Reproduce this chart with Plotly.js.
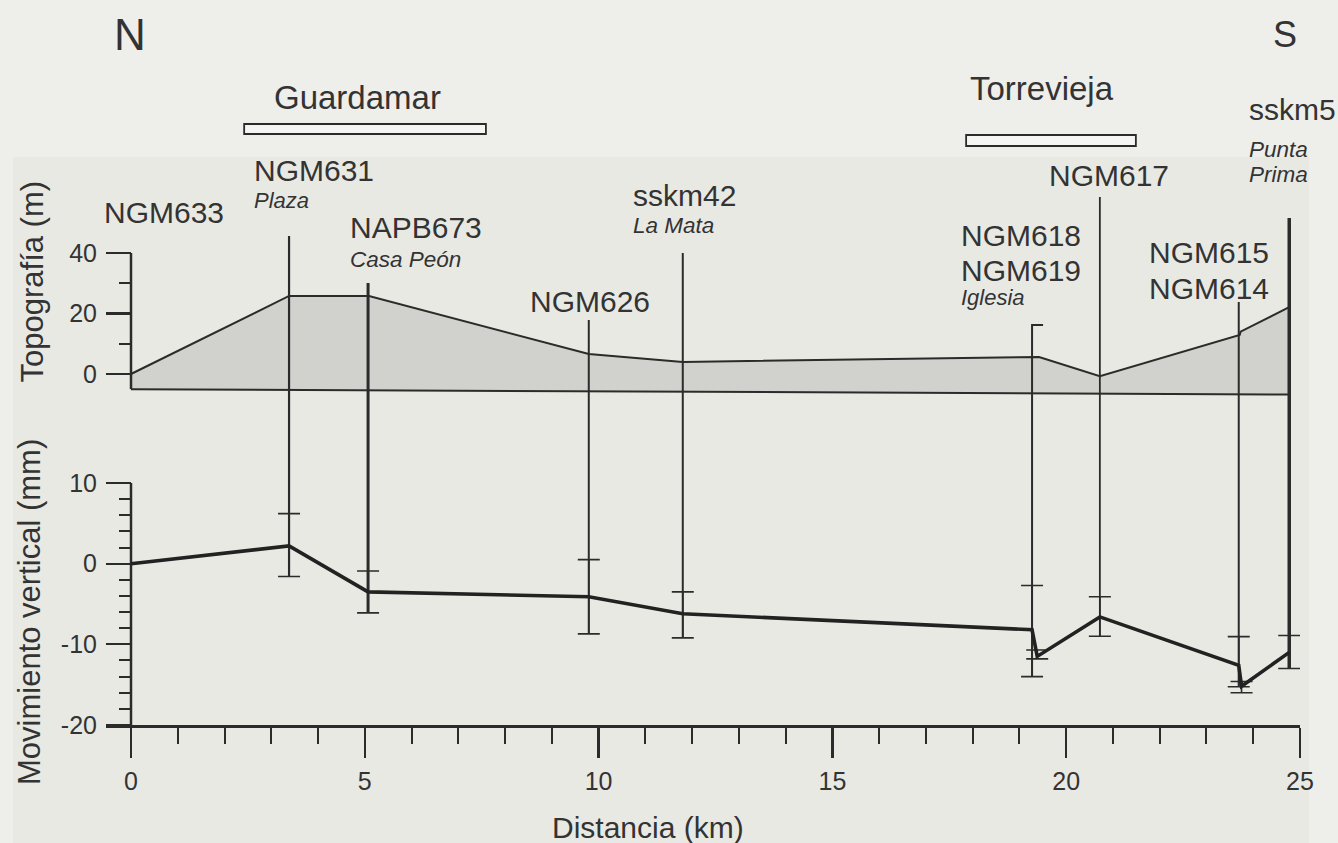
<!DOCTYPE html>
<html>
<head>
<meta charset="utf-8">
<script src="https://cdn.plot.ly/plotly-3.0.1.min.js"></script>
<style>
html,body{margin:0;padding:0;background:#eeeeea;}
#chart{width:1338px;height:843px;}
</style>
</head>
<body>
<div id="chart"></div>
<script>
// ---------------- data ----------------
const stations = ['NGM633','NGM631','NAPB673','NGM626','sskm42','NGM618','NGM619','NGM617','NGM615','NGM614','sskm5'];
const distKm   = [0, 3.38, 5.07, 9.79, 11.8, 19.27, 19.38, 20.72, 23.69, 23.75, 24.77];
const movMm    = [0, 2.2, -3.5, -4.1, -6.2, -8.2, -11.5, -6.6, -12.6, -15.2, -11.0];
const errUpMm  = [null, 6.2, -0.9, 0.5, -3.5, -2.7, -10.7, -4.1, -9.05, -14.6, -8.9];
const errLowMm = [null, -1.6, -6.1, -8.7, -9.2, -14.0, -11.8, -9.0, -15.25, -16.0, -13.0];

const topoKm = [0, 3.38, 5.09, 9.79, 11.8, 19.29, 19.42, 20.72, 23.71, 23.73, 24.77];
const topoM  = [0, 25.8, 25.8, 6.6, 4.0, 5.6, 5.6, -0.7, 12.9, 14.0, 22.1];
const topoBaseKm = [24.77, 0];
const topoBaseM  = [-6.8, -5.0];

const cities = ['Guardamar', 'Torrevieja'];
const cityStartKm = [2.42, 17.86];
const cityEndKm   = [7.59, 21.49];

const xTickVals = [0, 5, 10, 15, 20, 25];
const movTickVals = [-20, -10, 0, 10];
const movTickText = ['-20', '-10', '0', '10'];
const movMinorVals = [-18,-16,-14,-12,-8,-6,-4,-2,2,4,6,8];
const topoTickVals = [0, 20, 40];
const topoMinorVals = [10, 30];

// ---------------- layout geometry (pixels) ----------------
const W = 1338, H = 843, L = 106, R = 38, T = 0, B = 118;
const PW = W - L - R, PH = H - T - B;
const x0px = 131, x25px = 1300;
const pxPerKm = (x25px - x0px) / 25;
const mm10px = 483, mmM20px = 725, pxPerMm = (mmM20px - mm10px) / 30;
const m0px = 374, m40px = 253, pxPerM = (m0px - m40px) / 40;

const xRange = [-(x0px - L) / pxPerKm, 25.0001];
const mmRange = [-20, -20 + PH / pxPerMm];
const mRange = [-(mmM20px - m0px) / pxPerM, m0px / pxPerM];
const yAxisPos = (x0px - L) / PW;

const pyMm = px => -20 + (mmM20px - px) / pxPerMm;
const pyM  = px => (m0px - px) / pxPerM;
const paperX = px => (px - L) / PW;
const paperY = px => (PH - px) / PH;

const ink = '#2b2b2b';
const txt = '#333333';
const FONT = 'Liberation Sans, Arial, Helvetica, sans-serif';

// station leader-line tops (label layout, px) and widths
const lineTopPx = {NGM631:236, NAPB673:283, NGM626:320, sskm42:253, NGM618:325, NGM617:197, NGM615:302, sskm5:218};
const lineW = {NGM631:2.2, NAPB673:3, NGM626:2, sskm42:2, NGM618:2, NGM617:1.8, NGM615:2, sskm5:3.5};

const traces = [];

// topography polygon (base axis 'y' = metres)
traces.push({
  x: topoKm.concat(topoBaseKm), y: topoM.concat(topoBaseM),
  xaxis: 'x', yaxis: 'y', type: 'scatter', mode: 'lines',
  fill: 'toself', fillcolor: '#d1d1cd',
  line: {color: ink, width: 2}, hoverinfo: 'skip'
});

// y-axis lines (only over the labelled extents)
traces.push({x: [0, 0], y: [topoBaseM[1], topoTickVals[topoTickVals.length-1]], xaxis:'x', yaxis:'y',
  mode:'lines', line:{color: ink, width: 2.5}, hoverinfo:'skip'});
traces.push({x: [0, 0], y: [movTickVals[0], movTickVals[movTickVals.length-1]], xaxis:'x', yaxis:'y2',
  mode:'lines', line:{color: ink, width: 2.5}, hoverinfo:'skip'});

// station leader lines (overlay axis 'y2' = millimetres)
stations.forEach((s, i) => {
  if (!(s in lineTopPx)) return;
  const top = pyMm(lineTopPx[s]);
  let xs = [distKm[i], distKm[i]], ys = [top, errLowMm[i]];
  if (s === 'NGM618') { xs = [distKm[i] + 11 / pxPerKm, distKm[i], distKm[i]]; ys = [top, top, errLowMm[i]]; }
  traces.push({x: xs, y: ys, xaxis:'x', yaxis:'y2', mode:'lines',
    line:{color: ink, width: lineW[s]}, hoverinfo:'skip'});
});

// error bars
const eIdx = stations.map((s, i) => i).filter(i => errUpMm[i] !== null);
traces.push({
  x: eIdx.map(i => distKm[i]), y: eIdx.map(i => movMm[i]),
  xaxis:'x', yaxis:'y2', mode:'markers', marker:{size:1, opacity:0},
  error_y: {type:'data', symmetric:false,
    array: eIdx.map(i => errUpMm[i] - movMm[i]),
    arrayminus: eIdx.map(i => movMm[i] - errLowMm[i]),
    width: 11, thickness: 1.6, color: ink},
  hoverinfo:'skip'
});

// vertical movement line
traces.push({x: distKm, y: movMm, xaxis:'x', yaxis:'y2', mode:'lines',
  line:{color:'#222222', width:3.6}, hoverinfo:'skip'});

// ---------------- annotations ----------------
const ann = [];
function addText(text, px, py, size, anchor, angle) {
  ann.push({text: text, xref:'paper', yref:'paper', x: paperX(px), y: paperY(py),
    xanchor: anchor || 'left', yanchor:'middle', showarrow:false,
    textangle: angle || 0, font:{family: FONT, size: size, color: txt}});
}
addText('N', 130, 34.5, 44, 'center');
addText('S', 1285, 34.5, 36, 'center');
addText(cities[0], 272, 97.5, 33);
addText(cities[1], 968, 89, 33);
addText(stations[0], 102, 212, 30);
addText(stations[1], 252, 170, 30);
addText('<i>Plaza</i>', 252, 200.5, 22);
addText(stations[2], 348, 227, 30);
addText('<i>Casa Peón</i>', 348, 259.5, 22.5);
addText(stations[3], 528, 301, 30);
addText(stations[4], 631, 195, 30);
addText('<i>La Mata</i>', 631, 225.5, 22.5);
addText(stations[5], 959, 235.5, 30);
addText(stations[6], 959, 270, 30);
addText('<i>Iglesia</i>', 959, 297, 22);
addText(stations[7], 1047, 176, 30);
addText(stations[8], 1147, 252.5, 30);
addText(stations[9], 1147, 288.5, 30);
addText(stations[10], 1247, 109, 30);
addText('<i>Punta</i>', 1247, 149.5, 22.5);
addText('<i>Prima</i>', 1247, 174.5, 22.5);
addText('Topografía (m)', 32, 281.5, 31, 'center', -90);
addText('Movimiento vertical (mm)', 29, 612, 31, 'center', -90);
addText('Distancia (km)', 648, 827, 30, 'center');

// ---------------- shapes ----------------
const shapes = [{
  type:'rect', xref:'paper', yref:'paper', layer:'below',
  x0: paperX(13), x1: paperX(1309), y0: paperY(843), y1: paperY(157),
  fillcolor:'#e9e9e4', line:{width:0}
}];
const cityTopPx = [124, 135], cityBotPx = [134, 146];
cities.forEach((c, i) => {
  shapes.push({type:'rect', xref:'x', yref:'y',
    x0: cityStartKm[i], x1: cityEndKm[i], y0: pyM(cityBotPx[i]), y1: pyM(cityTopPx[i]),
    fillcolor:'#f5f5f3', line:{color: ink, width:1.8}});
});

const tickFont = {family: FONT, size: 25, color: txt};
const layout = {
  width: W, height: H,
  margin: {l: L, r: R, t: T, b: B, pad: 0},
  paper_bgcolor: '#eeeeea', plot_bgcolor: 'rgba(0,0,0,0)',
  showlegend: false, hovermode: false,
  xaxis: {range: xRange, showgrid:false, zeroline:false, showline:true, linecolor: ink, linewidth:2.5,
    tickmode:'array', tickvals: xTickVals, ticks:'outside', ticklen:30, tickwidth:2.2, tickcolor: ink,
    minor:{dtick:1, tick0:0, ticks:'outside', ticklen:16, tickwidth:2, tickcolor: ink, showgrid:false},
    tickfont: tickFont, ticklabelstandoff: 2, fixedrange:true},
  yaxis: {range: mRange, anchor:'free', position: yAxisPos, side:'left',
    showgrid:false, zeroline:false, showline:false,
    tickmode:'array', tickvals: topoTickVals, ticks:'outside', ticklen:25, tickwidth:2.2, tickcolor: ink,
    minor:{tickmode:'array', tickvals: topoMinorVals, ticks:'outside', ticklen:12, tickwidth:2, tickcolor: ink, showgrid:false},
    tickfont: tickFont, ticklabelstandoff: 4, fixedrange:true},
  yaxis2: {range: mmRange, overlaying:'y', anchor:'free', position: yAxisPos, side:'left',
    showgrid:false, zeroline:false, showline:false,
    tickmode:'array', tickvals: movTickVals, ticktext: movTickText, ticks:'outside', ticklen:25, tickwidth:2.2, tickcolor: ink,
    minor:{tickmode:'array', tickvals: movMinorVals, ticks:'outside', ticklen:12, tickwidth:2, tickcolor: ink, showgrid:false},
    tickfont: tickFont, ticklabelstandoff: 4, fixedrange:true},
  annotations: ann,
  shapes: shapes
};

Plotly.newPlot('chart', traces, layout, {displayModeBar:false, staticPlot:true});
</script>
</body>
</html>
